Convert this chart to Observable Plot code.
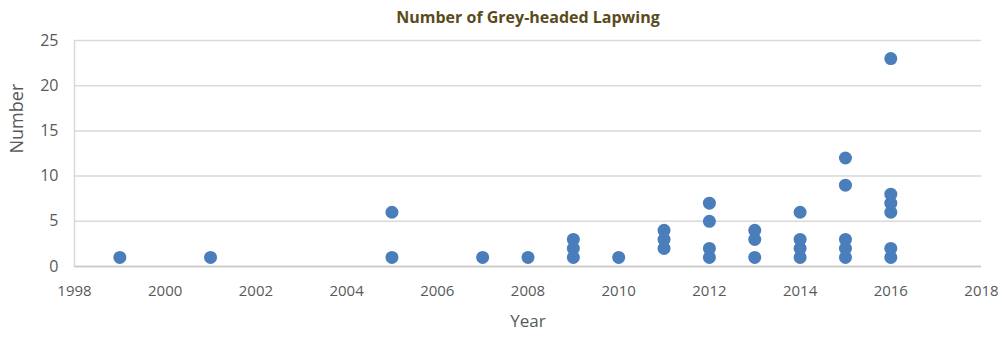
<!DOCTYPE html>
<html>
<head>
<meta charset="utf-8">
<script src="https://cdn.jsdelivr.net/npm/d3@7"></script>
<script src="https://cdn.jsdelivr.net/npm/@observablehq/plot@0.6"></script>
<style>
  html, body { margin: 0; padding: 0; background: #fff; }
  #title { height: 30px; line-height: 34px; text-align: center; font-family: "Open Sans", sans-serif; font-weight: bold; font-size: 16px; color: #5b4b1c; padding-left: 54px; box-sizing: border-box; width: 1002px; }
  #chart svg { display: block; }
</style>
</head>
<body>
<div id="title">Number of Grey-headed Lapwing</div>
<div id="chart"></div>
<script>
const years  = [1999, 2001, 2005, 2005, 2007, 2008, 2009, 2009, 2009, 2010, 2011, 2011, 2011,
                2012, 2012, 2012, 2012, 2013, 2013, 2013, 2014, 2014, 2014, 2014,
                2015, 2015, 2015, 2015, 2015, 2016, 2016, 2016, 2016, 2016, 2016];
const counts = [1, 1, 1, 6, 1, 1, 1, 2, 3, 1, 2, 3, 4,
                1, 2, 5, 7, 1, 3, 4, 1, 2, 3, 6,
                1, 2, 3, 9, 12, 1, 2, 6, 7, 8, 23];
const xTicks = [1998, 2000, 2002, 2004, 2006, 2008, 2010, 2012, 2014, 2016, 2018];
const yTicks = [0, 5, 10, 15, 20, 25];

const data = years.map((y, i) => ({year: y, count: counts[i]}));

const chart = Plot.plot({
  width: 1002,
  height: 308,
  marginTop: 10,
  marginBottom: 72,
  marginLeft: 74,
  marginRight: 21,
  style: {fontFamily: "'Open Sans', sans-serif", fontSize: "15px", color: "#595959", background: "#fff"},
  x: {domain: [1998, 2018], ticks: xTicks, tickFormat: d => String(d), label: null},
  y: {domain: [0, 25], ticks: yTicks, label: null},
  marks: [
    Plot.gridY(yTicks, {stroke: "#d9d9d9", strokeOpacity: 1, strokeWidth: 1.5}),
    Plot.ruleX([1998], {stroke: "#d9d9d9", strokeWidth: 1.5}),
    Plot.ruleY([0], {stroke: "#c8c8c8", strokeWidth: 1.5}),
    Plot.axisX(xTicks, {tickSize: 0, tickPadding: 19, fill: "#595959", fontSize: 15, tickFormat: d => String(d)}),
    Plot.axisY(yTicks, {tickSize: 0, tickPadding: 16, fill: "#595959", fontSize: 16}),
    Plot.dot(data, {x: "year", y: "count", r: 6.5, fill: "#4a7ebb", stroke: "none"}),
    Plot.text(["Year"], {frameAnchor: "bottom", dy: 60, fill: "#595959", fontSize: 17}),
    Plot.text(["Number"], {frameAnchor: "left", dx: -57, rotate: -90, fill: "#595959", fontSize: 18})
  ]
});
document.getElementById("chart").appendChild(chart);
</script>
</body>
</html>
